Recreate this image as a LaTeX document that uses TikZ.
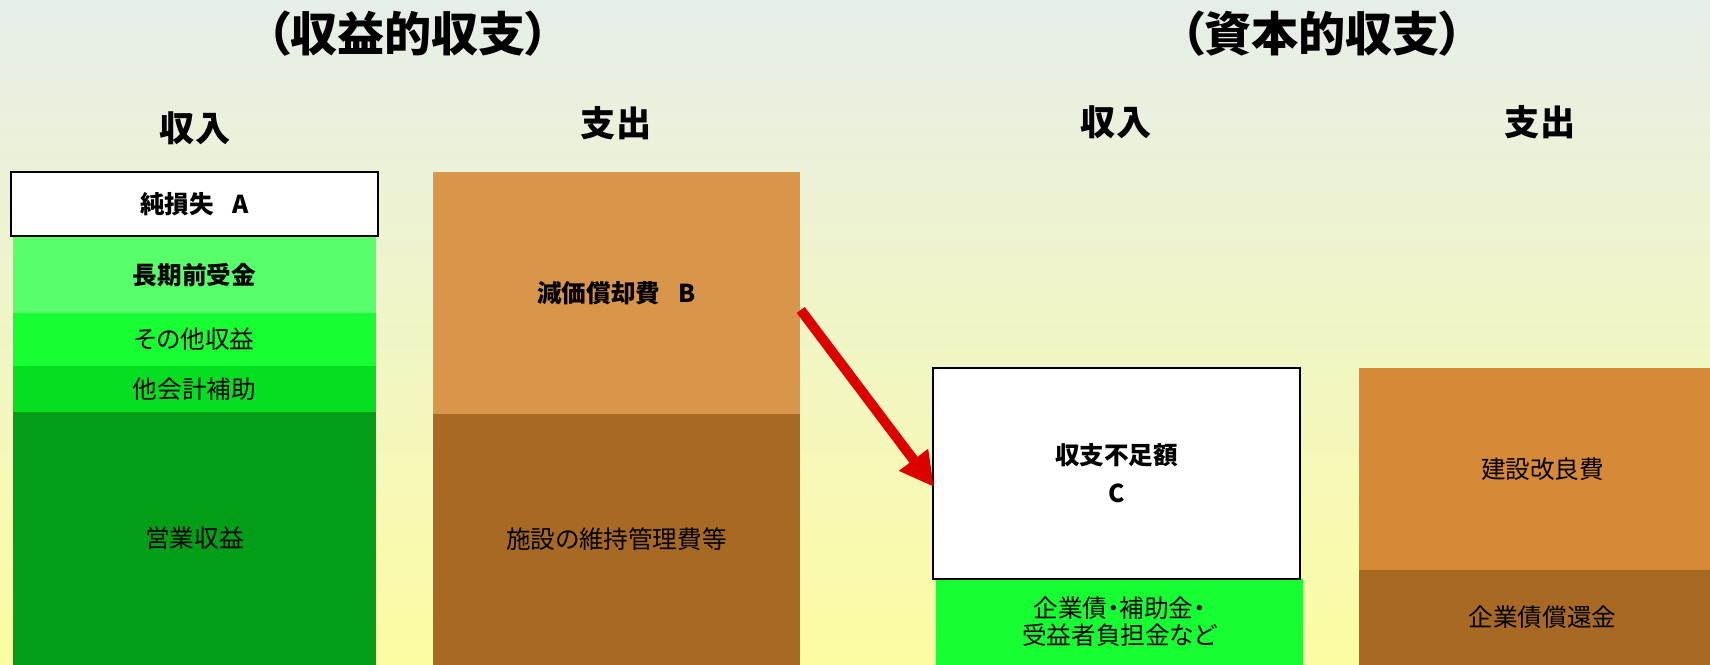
\documentclass[tikz,border=0pt]{standalone}
\usepackage{fontspec}
\newfontfamily\jp[RawFeature=+palt]{Noto Sans CJK JP}
\usetikzlibrary{arrows.meta}
\definecolor{bgtop}{HTML}{E6EEE9}
\definecolor{bgmid}{HTML}{F4F6D9}
\definecolor{bgbot}{HTML}{FCFCA2}
\definecolor{ltgreen}{HTML}{58FF6A}
\definecolor{brgreen}{HTML}{17FF33}
\definecolor{mdgreen}{HTML}{04DF21}
\definecolor{dkgreen}{HTML}{029E17}
\definecolor{ltorange}{HTML}{D9954A}
\definecolor{orange}{HTML}{D68A37}
\definecolor{brown}{HTML}{A86A22}
\definecolor{arrowred}{HTML}{DD0000}
\begin{document}
\begin{tikzpicture}[x=1cm, y=1cm,
  blk/.style={minimum width=3.67cm, inner sep=0pt, text=black, align=center,
    font=\jp\fontsize{7}{7.6}\selectfont},
  wbox/.style={blk, fill=white, draw=black, line width=0.6pt},
  title/.style={font=\jp\fontsize{13.4}{16}\selectfont\bfseries},
  colhead/.style={font=\jp\fontsize{10}{12}\selectfont\bfseries}]
  \clip (0,0) rectangle (17.1,6.65);
  \shade[top color=bgtop, middle color=bgmid, bottom color=bgbot] (0,0) rectangle (17.1,6.65);
  \node[title] (rev) at (4.08,6.31) {（収益的収支）};
  \node[title] (cap) at (13.22,6.31) {（資本的収支）};
  \node[colhead] (revin) at (1.95,5.37) {収入};
  \node[colhead] (revout) at (6.16,5.42) {支出};
  \node[colhead] (capin) at (11.16,5.43) {収入};
  \node[colhead] (capout) at (15.40,5.43) {支出};
  \node[blk, minimum width=3.63cm, fill=ltgreen, minimum height=0.76cm] (advance) at (1.945,3.90) {\bfseries 長期前受金};
  \node[blk, minimum width=3.63cm, fill=brgreen, minimum height=0.53cm] (other) at (1.945,3.255) {その他収益};
  \node[blk, minimum width=3.63cm, fill=mdgreen, minimum height=0.46cm] (subsidy) at (1.945,2.76) {他会計補助};
  \node[blk, minimum width=3.63cm, fill=dkgreen, minimum height=2.53cm] (sales) at (1.945,1.265) {営業収益};
  \node[wbox, minimum height=0.64cm] (A) at (1.945,4.61) {\bfseries 純損失\hspace{0.75em}A};
  \node[blk, fill=ltorange, minimum height=2.42cm] (B) at (6.165,3.72) {\bfseries 減価償却費\hspace{0.75em}B};
  \node[blk, fill=brown, minimum height=2.51cm] (upkeep) at (6.165,1.255) {施設の維持管理費等};
  \node[blk, fill=brgreen, minimum height=0.86cm] (bonds) at (11.195,0.43) {企業債・補助金・\\受益者負担金など};
  \node[wbox, minimum height=2.11cm] (C) at (11.165,1.915) {\bfseries 収支不足額\\[3.2pt]\bfseries C};
  \node[blk, fill=orange, minimum height=2.02cm] (build) at (15.425,1.96) {建設改良費};
  \node[blk, fill=brown, minimum height=0.95cm] (repay) at (15.425,0.475) {企業債償還金};
  \draw[-{Triangle[length=0.34cm, width=0.34cm]}, line width=0.1cm, arrowred]
    ([yshift=-0.17cm]B.east) -- ([xshift=0.02cm, yshift=-0.135cm]C.west);
\end{tikzpicture}
\end{document}
